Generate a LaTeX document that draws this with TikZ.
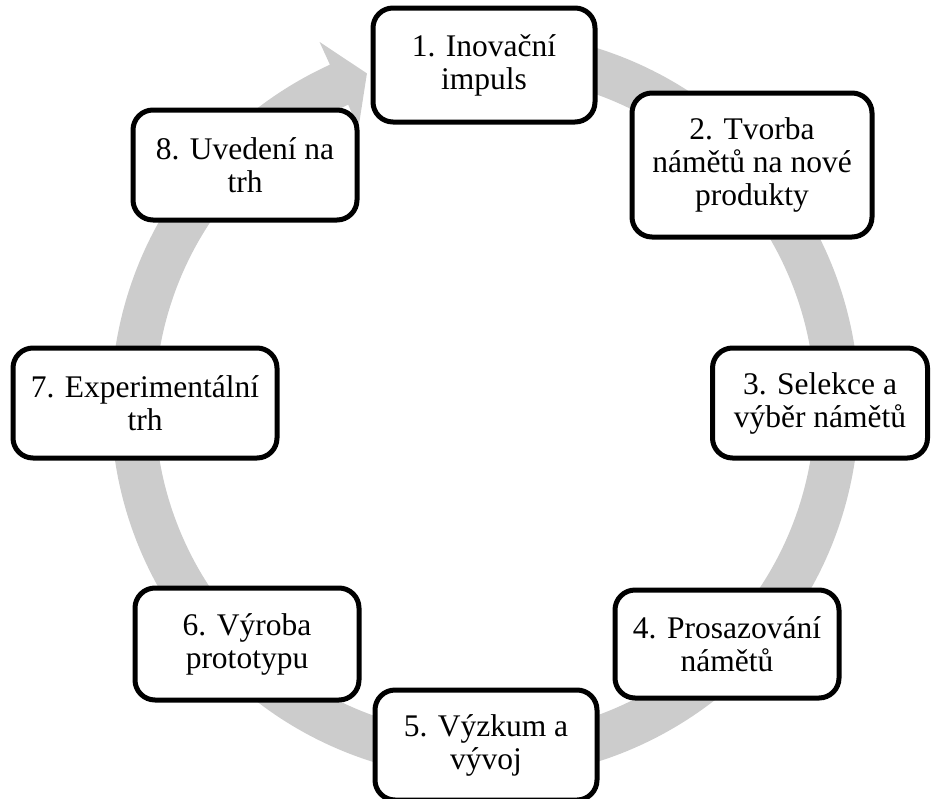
\documentclass[tikz,border=0pt]{standalone}
\usepackage{fontspec}
\setmainfont{Liberation Serif}
\usetikzlibrary{calc}
\definecolor{ringgray}{RGB}{204,204,204}
\tikzset{
  stage/.style={draw=black, line width=5pt, rounded corners=20pt, fill=white,
    align=center, inner sep=0pt, font=\fontsize{31.5}{33}\selectfont},
}
\begin{document}
\begin{tikzpicture}[x=1pt,y=1pt]
\useasboundingbox (0,0) rectangle (931,-798);
\coordinate (c) at (485,-405);
% circular arrow behind the stages
\fill[ringgray] ($(c)+(80:374)$) arc[start angle=80, end angle=-245.5, radius=374]
  -- ($(c)+(-245.5:399)$) -- ($(c)+(-250.4:352)$) -- ($(c)+(-245.5:305)$)
  -- ($(c)+(-245.5:330)$) arc[start angle=-245.5, end angle=80, radius=330] -- cycle;
% stages
\node[stage, minimum width=222pt, minimum height=114pt] (s1) at (484,-65) {1. Inovační\\impuls};
\node[stage, minimum width=240pt, minimum height=144pt] (s2) at (752,-165) {2. Tvorba\\námětů na nové\\produkty};
\node[stage, minimum width=215pt, minimum height=110pt] (s3) at (820,-403) {3. Selekce a\\výběr námětů};
\node[stage, minimum width=224pt, minimum height=108pt] (s4) at (727,-644) {4. Prosazování\\námětů};
\node[stage, minimum width=222pt, minimum height=110pt] (s5) at (486,-745) {5. Výzkum a\\vývoj};
\node[stage, minimum width=224pt, minimum height=112pt] (s6) at (247,-644) {6. Výroba\\prototypu};
\node[stage, minimum width=264pt, minimum height=110pt] (s7) at (145,-403) {7. Experimentální\\trh};
\node[stage, minimum width=224pt, minimum height=110pt] (s8) at (245,-165) {8. Uvedení na\\trh};
\end{tikzpicture}
\end{document}
